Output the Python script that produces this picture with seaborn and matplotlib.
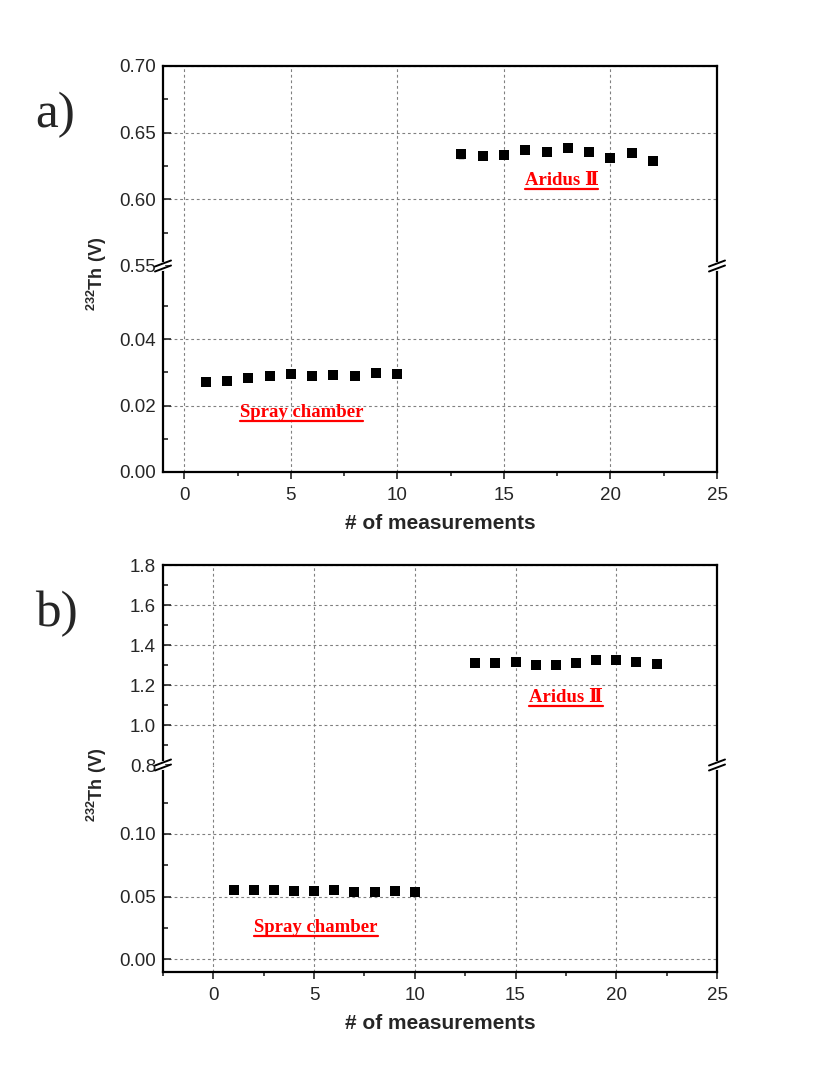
import matplotlib
matplotlib.use("Agg")
import matplotlib.pyplot as plt
from matplotlib.lines import Line2D
from matplotlib.ticker import MultipleLocator, FixedLocator, FormatStrFormatter
import seaborn as sns
import pandas as pd

# ---------------- data ----------------
spray_x = [1, 2, 3, 4, 5, 6, 7, 8, 9, 10]
aridus_x = [13, 14, 15, 16, 17, 18, 19, 20, 21, 22]

spray_a = [0.0271, 0.0275, 0.0284, 0.0289, 0.0295, 0.0289, 0.0291, 0.0289, 0.0298, 0.0294]
aridus_a = [0.634, 0.6323, 0.633, 0.6368, 0.6355, 0.6385, 0.6355, 0.6313, 0.6345, 0.6288]
aridus_a_err = [0.003, 0, 0, 0, 0, 0, 0, 0, 0, 0]

spray_b = [0.0553, 0.0551, 0.0553, 0.0543, 0.0545, 0.0553, 0.0540, 0.0540, 0.0543, 0.0540]
aridus_b = [1.312, 1.308, 1.313, 1.302, 1.302, 1.310, 1.327, 1.327, 1.317, 1.303]

# tick values
a_up_major = [0.55, 0.60, 0.65, 0.70]
a_up_minor = [0.575, 0.625, 0.675]
a_lo_major = [0.00, 0.02, 0.04]
a_lo_minor = [0.01, 0.03, 0.05]
b_up_major = [0.8, 1.0, 1.2, 1.4, 1.6, 1.8]
b_up_minor = [0.9, 1.1, 1.3, 1.5, 1.7]
b_lo_major = [0.00, 0.05, 0.10]
b_lo_minor = [0.025, 0.075, 0.125]

panel_labels = ["a)", "b)"]
xlabel = "# of measurements"
ylabel = r"$\mathbf{^{232}Th\ (V)}$"
label_spray = "Spray chamber"
label_aridus = "Aridus \u2161"

# ---------------- style ----------------
sns.set_style("white")
plt.rcParams["font.family"] = ["Liberation Sans", "DejaVu Sans"]
plt.rcParams["mathtext.fontset"] = "custom"
plt.rcParams["mathtext.rm"] = "Liberation Sans"
plt.rcParams["mathtext.bf"] = "Liberation Sans:bold"

W, H = 831, 1066
fig = plt.figure(figsize=(W / 100, H / 100), dpi=100)


def fx(x):
    return x / W


def fy(y):
    return 1 - y / H


L, R = 163, 717


def make_ax(top, bottom):
    return fig.add_axes([fx(L), fy(bottom), fx(R) - fx(L), (bottom - top) / H])


grid_kw = dict(color="#808080", linestyle=(0, (2.5, 2.5)), linewidth=0.8)


def style_ax(ax, upper, xlim, ylim, ymaj, ymin, yfmt):
    ax.set_xlim(*xlim)
    ax.set_ylim(*ylim)
    ax.xaxis.set_major_locator(MultipleLocator(5))
    ax.xaxis.set_minor_locator(MultipleLocator(2.5))
    ax.yaxis.set_major_locator(FixedLocator(ymaj))
    ax.yaxis.set_minor_locator(FixedLocator(ymin))
    ax.yaxis.set_major_formatter(FormatStrFormatter(yfmt))
    ax.grid(True, which="major", **grid_kw)
    ax.set_axisbelow(True)
    for s in ax.spines.values():
        s.set_linewidth(1.6)
        s.set_color("black")
    ax.tick_params(axis="y", which="major", direction="in", length=6, width=1.2,
                   labelsize=13.5, left=True, right=False, pad=5)
    ax.tick_params(axis="y", which="minor", direction="in", length=3.5, width=1.2,
                   left=True, right=False)
    ax.tick_params(axis="x", which="major", direction="out", length=5, width=1.2,
                   labelsize=13.5, pad=6, bottom=True, top=False)
    ax.tick_params(axis="x", which="minor", direction="out", length=3, width=1.2,
                   bottom=True, top=False)
    if upper:
        ax.spines["bottom"].set_visible(False)
        ax.tick_params(axis="x", which="both", bottom=False, labelbottom=False)
        # no grid line at the break
        ax.get_ygridlines()[0].set_visible(False)
    else:
        ax.spines["top"].set_visible(False)


def scatter(ax, x, y):
    df = pd.DataFrame({"x": x, "y": y})
    sns.scatterplot(data=df, x="x", y="y", ax=ax, marker="s", s=60,
                    color="black", linewidth=0, legend=False, zorder=3)
    ax.set_xlabel("")
    ax.set_ylabel("")


def brk(xp, yp):
    fig.add_artist(Line2D([fx(xp), fx(xp)], [fy(yp - 2.5), fy(yp + 2.5)],
                          color="white", lw=3, transform=fig.transFigure, zorder=10))
    for off in (-2.5, 2.5):
        fig.add_artist(Line2D([fx(xp - 8), fx(xp + 8)], [fy(yp + off + 3), fy(yp + off - 3)],
                              color="black", lw=1.4, transform=fig.transFigure, zorder=11))


texts = []


def red_text(ax, x, y, s):
    t = ax.text(x, y, s, color="red", fontsize=13.5, fontweight="bold",
                family=["Liberation Serif", "DejaVu Serif"],
                ha="center", va="baseline", zorder=5)
    texts.append((ax, x, y, t))


# ---------------- panel a ----------------
a_top, a_brk, a_bot = 66, 266, 472
ax_a_up = make_ax(a_top, a_brk)
ax_a_lo = make_ax(a_brk, a_bot)
scatter(ax_a_up, aridus_x, aridus_a)
ax_a_up.errorbar(aridus_x, aridus_a, yerr=aridus_a_err, fmt="none", ecolor="black",
                 elinewidth=1, capsize=2.5, zorder=2)
scatter(ax_a_lo, spray_x, spray_a)
style_ax(ax_a_up, True, (-1, 25), (0.55, 0.70), a_up_major, a_up_minor, "%.2f")
style_ax(ax_a_lo, False, (-1, 25), (0.0, 0.0621), a_lo_major, a_lo_minor, "%.2f")
red_text(ax_a_up, 17.7, 0.6108, label_aridus)
red_text(ax_a_lo, 5.5, 0.0167, label_spray)
ax_a_lo.set_xlabel(xlabel, fontsize=15, fontweight="bold", labelpad=7)
brk(L, a_brk)
brk(R, a_brk)

# ---------------- panel b ----------------
b_top, b_brk, b_bot = 565, 765, 972
ax_b_up = make_ax(b_top, b_brk)
ax_b_lo = make_ax(b_brk, b_bot)
scatter(ax_b_up, aridus_x, aridus_b)
scatter(ax_b_lo, spray_x, spray_b)
style_ax(ax_b_up, True, (-2.5, 25), (0.8, 1.8), b_up_major, b_up_minor, "%.1f")
style_ax(ax_b_lo, False, (-2.5, 25), (-0.0104, 0.1552), b_lo_major, b_lo_minor, "%.2f")
red_text(ax_b_up, 17.5, 1.1165, label_aridus)
red_text(ax_b_lo, 5.1, 0.0218, label_spray)
ax_b_lo.set_xlabel(xlabel, fontsize=15, fontweight="bold", labelpad=7)
brk(L, b_brk)
brk(R, b_brk)

# ---------------- labels ----------------
fig.text(fx(97), fy(274), ylabel, rotation=90, ha="center", va="center", fontsize=13)
fig.text(fx(97), fy(785), ylabel, rotation=90, ha="center", va="center", fontsize=13)
fig.text(fx(35), fy(127), panel_labels[0], fontsize=37, family=["Liberation Serif"],
         ha="left", va="baseline")
fig.text(fx(35), fy(626), panel_labels[1], fontsize=37, family=["Liberation Serif"],
         ha="left", va="baseline")

# ---------------- underlines ----------------
fig.canvas.draw()
renderer = fig.canvas.get_renderer()
inv = fig.transFigure.inverted()
for ax, x, y, t in texts:
    bb = t.get_window_extent(renderer)
    base = ax.transData.transform((x, y))[1]
    yl = base - 4
    p0 = inv.transform((bb.x0, yl))
    p1 = inv.transform((bb.x1, yl))
    fig.add_artist(Line2D([p0[0], p1[0]], [p0[1], p1[1]], color="red", lw=1.6,
                          transform=fig.transFigure, zorder=6))

fig.savefig("out.png", dpi=100)
